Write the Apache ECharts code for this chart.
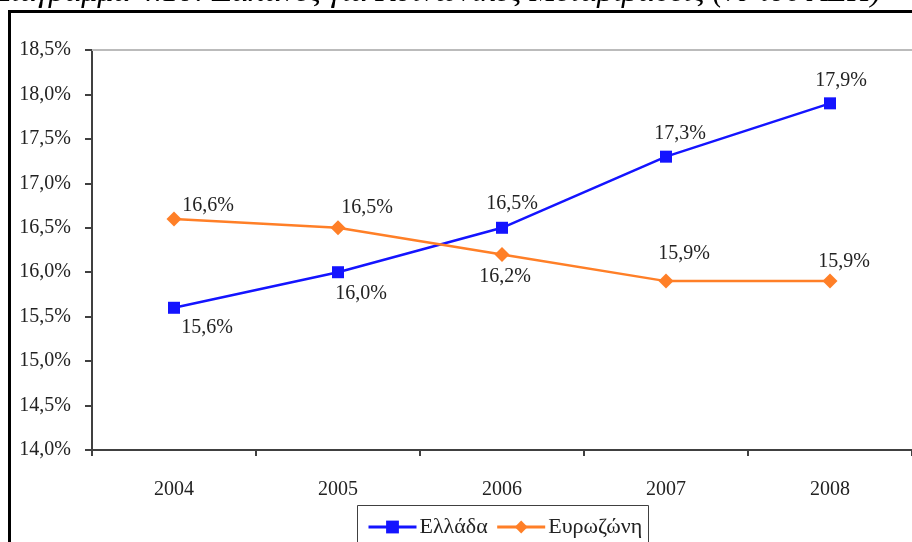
<!DOCTYPE html>
<html>
<head>
<meta charset="utf-8">
<script src="https://cdn.jsdelivr.net/npm/echarts@6/dist/echarts.min.js"></script>
<style>
  html, body { margin: 0; padding: 0; background: #fff; }
  #main { width: 912px; height: 542px; }
</style>
</head>
<body>
<div id="main"></div>
<script>
const years = ["2004", "2005", "2006", "2007", "2008"];
const greece = [15.6, 16.0, 16.5, 17.3, 17.9];
const eurozone = [16.6, 16.5, 16.2, 15.9, 15.9];
const seriesNames = ["Ελλάδα", "Ευρωζώνη"];
const titleText = "Διάγραμμα 4.10: Δαπάνες για Κοινωνικές Μεταβιβάσεις (% του ΑΕΠ)";

const font = "Liberation Serif";
const fmt = v => v.toFixed(1).replace(".", ",") + "%";

// where each value label sits relative to its marker
const greeceOffsets = [[33, 20], [23, 22], [10, -24], [14, -23], [11, -23]];
const euroOffsets = [[34, -13], [29, -20], [3, 22], [18, -27], [14, -19]];

function withLabels(values, offsets) {
  return values.map((v, i) => ({
    value: v,
    label: { offset: offsets[i] }
  }));
}

const chart = echarts.init(document.getElementById("main"));

chart.setOption({
  animation: false,
  textStyle: { fontFamily: font },
  grid: { left: 92, right: 0, top: 50, bottom: 92 },
  graphic: [
    {
      type: "text",
      left: -8,
      top: -23,
      style: {
        text: titleText,
        font: "italic 32px 'Liberation Serif'",
        fill: "#000"
      }
    },
    {
      type: "rect",
      shape: { x: 9.5, y: 11.5, width: 1000, height: 1000 },
      style: { fill: "none", stroke: "#000", lineWidth: 3 }
    },
    {
      type: "rect",
      shape: { x: 357.5, y: 505.5, width: 291, height: 60 },
      style: { fill: "#fff", stroke: "#404040", lineWidth: 1 }
    }
  ],
  legend: {
    bottom: -1,
    left: 362,
    itemWidth: 48,
    itemHeight: 16,
    itemGap: 8,
    lineStyle: { width: 3 },
    textStyle: { fontFamily: font, fontSize: 22, color: "#222", padding: [0, 0, 0, -2] },
    data: seriesNames
  },
  xAxis: [
    {
      type: "category",
      data: years,
      boundaryGap: true,
      axisLine: { lineStyle: { color: "#404040", width: 2 } },
      axisTick: { show: true, length: 6, lineStyle: { color: "#404040", width: 2 } },
      axisLabel: { fontFamily: font, fontSize: 20, color: "#222", margin: 30 }
    },
    {
      type: "category",
      data: years,
      position: "top",
      axisLine: { lineStyle: { color: "#bbb", width: 2 } },
      axisTick: { show: false },
      axisLabel: { show: false }
    }
  ],
  yAxis: {
    type: "value",
    min: 14,
    max: 18.5,
    interval: 0.5,
    axisLine: { show: true, lineStyle: { color: "#404040", width: 2 } },
    axisTick: { show: true, length: 7, lineStyle: { color: "#404040", width: 2 } },
    splitLine: { show: false },
    axisLabel: {
      fontFamily: font,
      fontSize: 20,
      color: "#222",
      margin: 21,
      formatter: v => fmt(v)
    }
  },
  series: [
    {
      name: seriesNames[0],
      type: "line",
      data: withLabels(greece, greeceOffsets),
      symbol: "rect",
      symbolSize: 12,
      itemStyle: { color: "#1414ff" },
      lineStyle: { color: "#1414ff", width: 2.5 },
      label: {
        show: true,
        position: "inside",
        fontFamily: font,
        fontSize: 20,
        color: "#222",
        formatter: p => fmt(p.value)
      }
    },
    {
      name: seriesNames[1],
      type: "line",
      data: withLabels(eurozone, euroOffsets),
      symbol: "diamond",
      symbolSize: 15,
      itemStyle: { color: "#ff7f27" },
      lineStyle: { color: "#ff7f27", width: 2.5 },
      label: {
        show: true,
        position: "inside",
        fontFamily: font,
        fontSize: 20,
        color: "#222",
        formatter: p => fmt(p.value)
      }
    }
  ]
});
</script>
</body>
</html>
